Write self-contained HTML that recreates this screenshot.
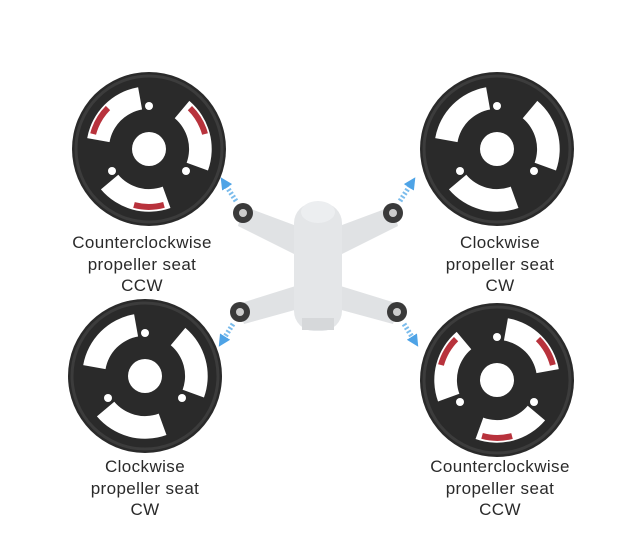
<!DOCTYPE html>
<html><head><meta charset="utf-8"><style>
html,body{margin:0;padding:0;background:#fff;}
svg{display:block}
text{font-family:"Liberation Sans","DejaVu Sans",sans-serif;font-size:17px;fill:#2a2a2a;text-anchor:middle;letter-spacing:0.4px}
</style></head><body>
<svg width="631" height="543" viewBox="0 0 631 543" xmlns="http://www.w3.org/2000/svg">
<defs>
<path id="win" d="M51.4,-36 A63,63 0 0 1 51.4,36 L32.8,23 A40,40 0 0 0 32.8,-23 Z"/>
<g id="disc">
<circle r="77" fill="#2a2a2a"/>
<circle r="73" fill="none" stroke="#3c3c3c" stroke-width="3"/>
<use href="#win" fill="#fff" transform="rotate(-135)"/>
<use href="#win" fill="#fff" transform="rotate(-15)"/>
<use href="#win" fill="#fff" transform="rotate(105)"/>
<circle r="17" fill="#fff"/>
<circle cx="0" cy="-43" r="4" fill="#fff"/>
<circle cx="-37" cy="22" r="4" fill="#fff"/>
<circle cx="37" cy="22" r="4" fill="#fff"/>
</g>
<g id="red" fill="none" stroke="#b8323c" stroke-width="6">
<path d="M50.1,-28.9 A58,58 0 0 1 58,0" transform="rotate(-135)"/>
<path d="M50.1,-28.9 A58,58 0 0 1 58,0" transform="rotate(-15)"/>
<path d="M50.1,-28.9 A58,58 0 0 1 58,0" transform="rotate(105)"/>
</g>
<marker id="ah" markerUnits="userSpaceOnUse" markerWidth="12" markerHeight="12" refX="4" refY="6" orient="auto"><path d="M0,0 L12,6 L0,12 Z" fill="#4ea3e6"/></marker>
</defs>

<g transform="translate(149,149)"><use href="#disc"/><use href="#red"/></g>
<g transform="translate(497,149)"><use href="#disc"/></g>
<g transform="translate(145,376)"><use href="#disc"/></g>
<g transform="translate(497,380) scale(-1,1)"><use href="#disc"/><use href="#red"/></g>

<!-- drone -->
<g fill="#e0e2e4">
<path d="M243,206 L302,228 L302,258 L238,226 Z"/>
<path d="M393,206 L334,228 L334,258 L398,226 Z"/>
<path d="M238,304 L302,284 L302,308 L244,324 Z"/>
<path d="M399,304 L334,284 L334,308 L393,324 Z"/>
<rect x="294" y="203" width="48" height="128" rx="20" fill="#e4e6e8"/>
<ellipse cx="318" cy="212" rx="17" ry="11" fill="#eceef0"/>
<rect x="302" y="318" width="32" height="12" fill="#d6d8da"/>
</g>
<g fill="#3a3a3a">
<circle cx="243" cy="213" r="10"/><circle cx="393" cy="213" r="10"/>
<circle cx="240" cy="312" r="10"/><circle cx="397" cy="312" r="10"/>
</g>
<g fill="#ccc"><circle cx="243" cy="213" r="4"/><circle cx="393" cy="213" r="4"/><circle cx="240" cy="312" r="4"/><circle cx="397" cy="312" r="4"/></g>

<g stroke="#7bbcec" stroke-width="5" stroke-dasharray="2 2" fill="none" marker-end="url(#ah)">
<line x1="236" y1="201" x2="225" y2="184"/>
<line x1="400" y1="201" x2="411" y2="184"/>
<line x1="233" y1="324" x2="223" y2="340"/>
<line x1="404" y1="324" x2="414" y2="340"/>
</g>

<text x="142" y="248">Counterclockwise</text>
<text x="142" y="270">propeller seat</text>
<text x="142" y="291">CCW</text>
<text x="500" y="248">Clockwise</text>
<text x="500" y="270">propeller seat</text>
<text x="500" y="291">CW</text>
<text x="145" y="472">Clockwise</text>
<text x="145" y="494">propeller seat</text>
<text x="145" y="515">CW</text>
<text x="500" y="472">Counterclockwise</text>
<text x="500" y="494">propeller seat</text>
<text x="500" y="515">CCW</text>
</svg>
</body></html>
